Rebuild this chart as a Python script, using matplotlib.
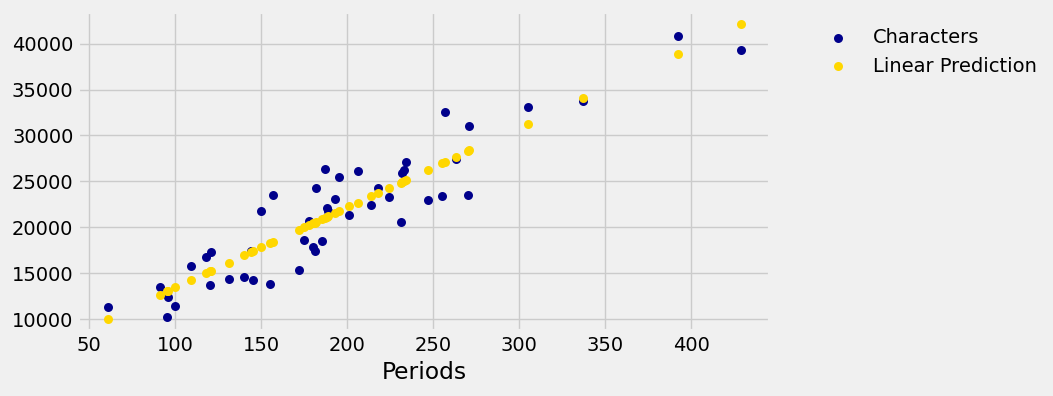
import matplotlib
matplotlib.use("Agg")
import matplotlib.pyplot as plt

plt.style.use("fivethirtyeight")

# Periods and Characters per chapter
periods = [61, 91, 96, 95, 100, 109, 118, 121, 120, 131, 140, 145, 144, 150, 157, 155,
           182, 175, 180, 181, 172, 178, 185, 187, 195, 206, 193, 188, 189, 201, 214, 218,
           224, 231, 232, 233, 234, 247, 255, 270, 263, 257, 271, 305, 337, 392, 429]
characters = [11300, 13500, 12450, 10200, 11450, 15750, 16750, 17300, 13700, 14430, 14620,
              14270, 17400, 21770, 23480, 13840, 24240, 18600, 17900, 17420, 15360, 20700,
              18510, 26400, 25530, 26090, 23040, 22150, 21760, 21300, 22480, 24240, 23300,
              20560, 25870, 26230, 27100, 22935, 23400, 23480, 27390, 32500, 30980, 33150,
              33770, 40870, 39350]
# fitted values
linear_prediction = [10060, 12680, 13110, 13030, 13460, 14250, 15030, 15290, 15200, 16160,
                     16950, 17380, 17300, 17820, 18430, 18260, 20610, 20000, 20440, 20520,
                     19740, 20260, 20870, 21050, 21740, 22700, 21570, 21130, 21220, 22270,
                     23400, 23750, 24270, 24880, 24970, 25060, 25140, 26280, 26970, 28280,
                     27670, 27150, 28370, 31230, 34120, 38850, 42140]

fig = plt.figure(figsize=(10.53, 3.96), dpi=100)
ax = fig.add_axes([0.0744, 0.163, 0.6566, 0.807])

ax.scatter(periods, characters, color="darkblue", s=42, linewidths=0, label="Characters")
ax.scatter(periods, linear_prediction, color="gold", s=42, linewidths=0, label="Linear Prediction")

ax.set_xlim(43.6, 445.6)
ax.set_ylim(8670, 43450)
ax.set_xlabel("Periods")
ax.set_xticks([50, 100, 150, 200, 250, 300, 350, 400])
ax.set_yticks([10000, 15000, 20000, 25000, 30000, 35000, 40000])
ax.legend(loc=2, bbox_to_anchor=(1.045, 1.005), frameon=False)

fig.savefig("out.png", dpi=100, facecolor=fig.get_facecolor())
